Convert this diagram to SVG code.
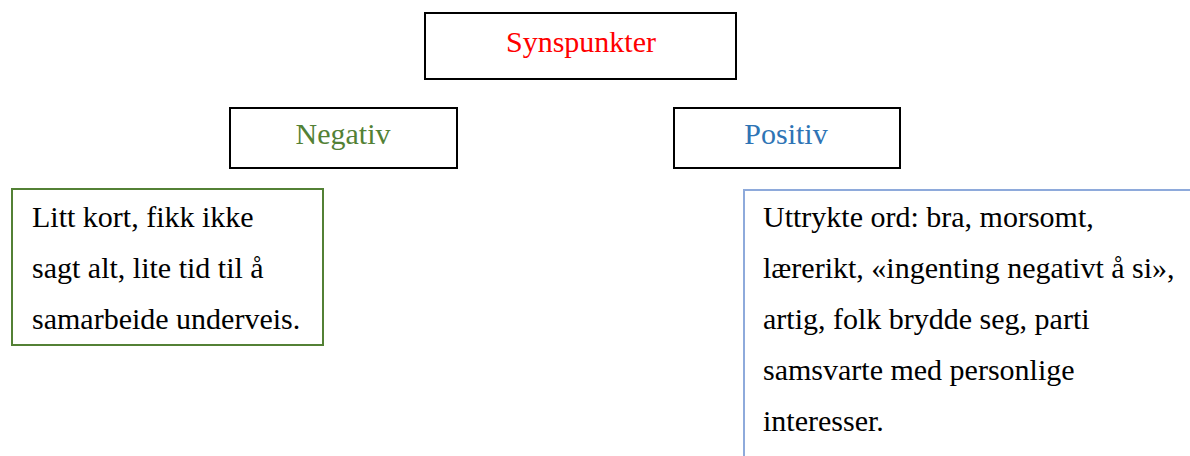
<svg xmlns="http://www.w3.org/2000/svg" width="1190" height="456" viewBox="0 0 1190 456">
<style>
.hdr{fill:#fff;stroke:#000;stroke-width:2}
.t{font-family:'Liberation Serif','Times New Roman',Times,serif;font-size:30px}
.h{font-family:'Liberation Serif','Times New Roman',Times,serif;font-size:30px;text-anchor:middle}
</style>
<rect width="1190" height="456" fill="#fff"/>
<g id="synspunkter">
<rect class="hdr" x="425" y="13" width="311" height="66"/>
<text class="h" x="581" y="52" fill="#ff0000">Synspunkter</text>
</g>
<g id="negativ">
<rect class="hdr" x="230" y="108" width="227" height="60"/>
<text class="h" x="343" y="144" fill="#538135">Negativ</text>
</g>
<g id="positiv">
<rect class="hdr" x="674" y="108" width="226" height="60"/>
<text class="h" x="786" y="144" fill="#2e74b5">Positiv</text>
</g>
<g id="negativ-detaljer">
<rect x="12" y="189" width="311" height="156" fill="#fff" stroke="#538135" stroke-width="2"/>
<text class="t" x="32" y="227">Litt kort, fikk ikke</text>
<text class="t" x="32" y="278">sagt alt, lite tid til å</text>
<text class="t" x="32" y="329">samarbeide underveis.</text>
</g>
<g id="positiv-detaljer">
<rect x="744" y="190" width="460" height="280" fill="#fff" stroke="#8eaadb" stroke-width="2"/>
<text class="t" x="763" y="227">Uttrykte ord: bra, morsomt,</text>
<text class="t" x="763" y="278">lærerikt, «ingenting negativt å si»,</text>
<text class="t" x="763" y="329">artig, folk brydde seg, parti</text>
<text class="t" x="763" y="380">samsvarte med personlige</text>
<text class="t" x="763" y="431">interesser.</text>
</g>
<g id="connectors"></g>
</svg>
